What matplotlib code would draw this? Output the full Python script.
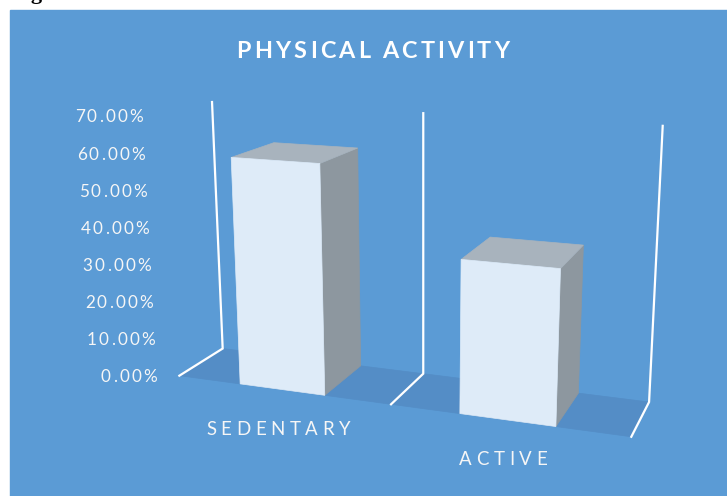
import matplotlib
matplotlib.use('Agg')
import matplotlib.pyplot as plt
from matplotlib.patches import Polygon, Rectangle
import numpy as np

# data
categories = ['SEDENTARY', 'ACTIVE']
shares = [60.0, 39.2]                      # % of respondents
value_ticks = [0, 10, 20, 30, 40, 50, 60, 70]
tick_labels = ['%.2f%%' % v for v in value_ticks]
y_max = 70

BG = '#5B9BD5'
FLOOR = '#548DC6'
FRONT = '#DEEBF8'
TOP = '#A8B3BD'
SIDE = '#8D979F'
TXT = '#F6F6F6'
FONT = 'Lato'

W, H = 727, 496
fig = plt.figure(figsize=(W/100, H/100), dpi=100)
ax = fig.add_axes([0, 0, 1, 1])
ax.set_xlim(0, W)
ax.set_ylim(H, 0)
ax.axis('off')

# caption text cut by the top of the page
ax.text(12, -1, 'Figure', family='Liberation Serif', fontweight='bold',
        fontsize=16, color='black', va='baseline')

ax.add_patch(Rectangle((10, 10), W - 10, H - 10, color=BG, zorder=0))

# plot-area frame: (category pos, depth, height/y_max) -> pixel
frame_world = [(0, 0, 0), (1, 0, 0), (2, 0, 0),
               (0, 1, 0), (1, 1, 0), (2, 1, 0),
               (0, 0, 1), (1, 0, 1), (2, 0, 1)]
frame_px = [(222.7, 348.3), (423.3, 373.3), (649, 402.7),
            (179, 376), (391.7, 404), (631, 436.7),
            (212, 102.7), (423.3, 112.3), (662.7, 126)]

# fit a pinhole camera (normalised DLT)
wp = np.array(frame_world, float)
ip = np.array(frame_px, float)
wm, ws = wp.mean(0), wp.std()
im, isd = ip.mean(0), ip.std()
wn = (wp - wm)/ws
inn = (ip - im)/isd
M = []
for (X, Y, Z), (x, y) in zip(wn, inn):
    M.append([X, Y, Z, 1, 0, 0, 0, 0, -x*X, -x*Y, -x*Z, -x])
    M.append([0, 0, 0, 0, X, Y, Z, 1, -y*X, -y*Y, -y*Z, -y])
Pn = np.linalg.svd(np.array(M))[2][-1].reshape(3, 4)
Tw = np.eye(4)
Tw[:3, :3] /= ws
Tw[:3, 3] = -wm/ws
Ti = np.array([[isd, 0, im[0]], [0, isd, im[1]], [0, 0, 1]])
P = Ti @ Pn @ Tw


def proj(u, w, z):
    v = P @ [u, w, z/y_max, 1]
    return v[0]/v[2], v[1]/v[2]


def face(pts, color, z):
    ax.add_patch(Polygon([proj(*p) for p in pts], closed=True, fc=color,
                         ec=color, lw=0.5, zorder=z))


def spaced_text(x, y, s, tracking, ha='center', **kw):
    r = fig.canvas.get_renderer()

    def width(t):
        tt = ax.text(0, 0, t, **kw)
        wd = tt.get_window_extent(r).width
        tt.remove()
        return wd
    total = width(s) + (len(s) - 1)*tracking
    x0 = x - total/2 if ha == 'center' else (x - total if ha == 'right' else x)
    for i, ch in enumerate(s):
        if ch == ' ':
            continue
        xi = x0 + width(s[:i+1]) - width(ch) + i*tracking
        ax.text(xi, y, ch, ha='left', va='center', **kw)


n_cat = len(categories)

# floor
face([(0, 0, 0), (n_cat, 0, 0), (n_cat, 1, 0), (0, 1, 0)], FLOOR, 1)

# vertical gridlines on the back wall, running on across the floor
for u in range(n_cat + 1):
    pts = [proj(u, 0, y_max), proj(u, 0, 0), proj(u, 1, 0)]
    ax.plot([p[0] for p in pts], [p[1] for p in pts], color='white', lw=1.6,
            solid_joinstyle='miter', zorder=2)

# bars
half = 0.2
for i, v in enumerate(shares):
    u0, u1 = i + 0.5 - half, i + 0.5 + half
    face([(u1, 1, 0), (u1, 0, 0), (u1, 0, v), (u1, 1, v)], SIDE, 3)
    face([(u0, 1, v), (u1, 1, v), (u1, 0, v), (u0, 0, v)], TOP, 3)
    face([(u0, 1, 0), (u1, 1, 0), (u1, 1, v), (u0, 1, v)], FRONT, 4)

# value axis labels, stacked along the left edge
lab_y0, lab_y1 = 377, 117.5
lab_x0, lab_x1 = 157, 143
for v, lab in zip(value_ticks, tick_labels):
    f = v/y_max
    spaced_text(lab_x0 + (lab_x1 - lab_x0)*f, lab_y0 + (lab_y1 - lab_y0)*f,
                lab, 2.2, ha='right', family=FONT, fontsize=12.3, color=TXT)

# category labels
for i, lab in enumerate(categories):
    x, y = proj(i + 0.5, 1, 0)
    spaced_text(x - 4, y + 40, lab, 4.6, family=FONT, fontsize=13.4, color=TXT)

spaced_text(373, 51, 'PHYSICAL ACTIVITY', 3.2, family=FONT, fontsize=16.8,
            fontweight='bold', color='white')

fig.savefig('out.png', dpi=100)
